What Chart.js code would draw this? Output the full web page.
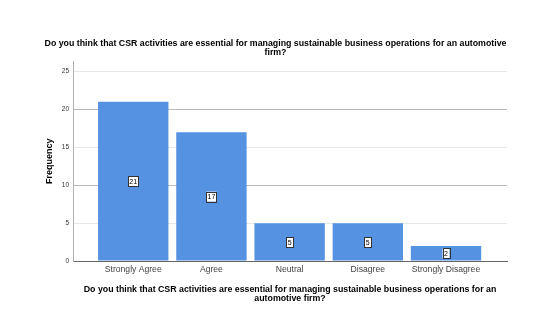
<!DOCTYPE html>
<html>
<head>
<meta charset="utf-8">
<script src="https://cdn.jsdelivr.net/npm/chart.js@4"></script>
<style>
  html, body { margin: 0; padding: 0; background: #fff; }
  #wrap { width: 553px; height: 322px; }
</style>
</head>
<body>
<div id="wrap"><canvas id="grafico"></canvas></div>
<script>
// Datos de la pregunta
const categorias = ['Strongly Agree', 'Agree', 'Neutral', 'Disagree', 'Strongly Disagree'];
const frecuencias = [21, 17, 5, 5, 2];
const marcasY = [0, 5, 10, 15, 20, 25];

const fuente = 'Liberation Sans, Arial, sans-serif';

// etiqueta con el valor en medio de cada barra
const etiquetasValor = {
  id: 'etiquetasValor',
  afterDatasetsDraw(chart) {
    const ctx = chart.ctx;
    const meta = chart.getDatasetMeta(0);
    const y0 = chart.scales.y;
    ctx.save();
    ctx.font = '7px ' + fuente;
    ctx.textAlign = 'center';
    ctx.textBaseline = 'middle';
    meta.data.forEach((bar, i) => {
      const v = frecuencias[i];
      const cy = y0.getPixelForValue(v / 2);
      const w = String(v).length > 1 ? 10 : 7;
      const h = 10;
      ctx.fillStyle = '#ffffff';
      ctx.fillRect(bar.x - w / 2, cy - h / 2, w, h);
      ctx.strokeStyle = '#333333';
      ctx.lineWidth = 1;
      ctx.strokeRect(Math.round(bar.x - w / 2) + 0.5, Math.round(cy - h / 2) + 0.5, w, h);
      ctx.fillStyle = '#000000';
      ctx.fillText(String(v), bar.x, cy + 0.5);
    });
    ctx.restore();
  }
};

const ctx = document.getElementById('grafico').getContext('2d');
new Chart(ctx, {
  type: 'bar',
  data: {
    datasets: [{
      label: 'Frequency',
      data: categorias.map((c, i) => ({ x: i, y: frecuencias[i] })),
      backgroundColor: '#5592e2',
      borderWidth: 0,
      barPercentage: 0.9,
      categoryPercentage: 1
    }]
  },
  options: {
    responsive: true,
    maintainAspectRatio: false,
    animation: false,
    layout: { padding: { left: 44, right: 46, top: 0, bottom: 19 } },
    plugins: {
      legend: { display: false },
      tooltip: { enabled: false },
      title: {
        display: true,
        text: [
          'Do you think that CSR activities are essential for managing sustainable business operations for an automotive',
          'firm?'
        ],
        color: '#000',
        font: { family: fuente, size: 8.8, weight: 'bold', lineHeight: 1 },
        padding: { top: 39, bottom: 5 }
      }
    },
    scales: {
      x: {
        type: 'linear',
        min: -0.77,
        max: 4.78,
        offset: false,
        afterBuildTicks: axis => { axis.ticks = categorias.map((c, i) => ({ value: i })); },
        ticks: {
          callback: v => categorias[v],
          color: '#444',
          font: { family: fuente, size: 8.6 },
          padding: 3,
          maxRotation: 0,
          autoSkip: false
        },
        grid: { display: false, drawTicks: false },
        border: { color: '#666', width: 1 },
        title: {
          display: true,
          text: [
            'Do you think that CSR activities are essential for managing sustainable business operations for an',
            'automotive firm?'
          ],
          color: '#000',
          font: { family: fuente, size: 8.8, weight: 'bold', lineHeight: 1 },
          padding: { top: 8, bottom: 0 }
        }
      },
      y: {
        min: 0,
        max: 26.3,
        afterBuildTicks: axis => { axis.ticks = marcasY.map(v => ({ value: v })); },
        ticks: {
          color: '#333',
          font: { family: fuente, size: 6.5 },
          padding: 4
        },
        grid: {
          drawTicks: false,
          color: c => (c.tick && c.tick.value % 10 === 0) ? '#b9b9b9' : '#e6e6e6',
          lineWidth: 1
        },
        border: { color: '#b0b0b0', width: 1 },
        title: {
          display: true,
          text: 'Frequency',
          color: '#000',
          font: { family: fuente, size: 9, weight: 'bold' },
          padding: { top: 0, bottom: 3 }
        }
      }
    }
  },
  plugins: [etiquetasValor]
});
</script>
</body>
</html>
